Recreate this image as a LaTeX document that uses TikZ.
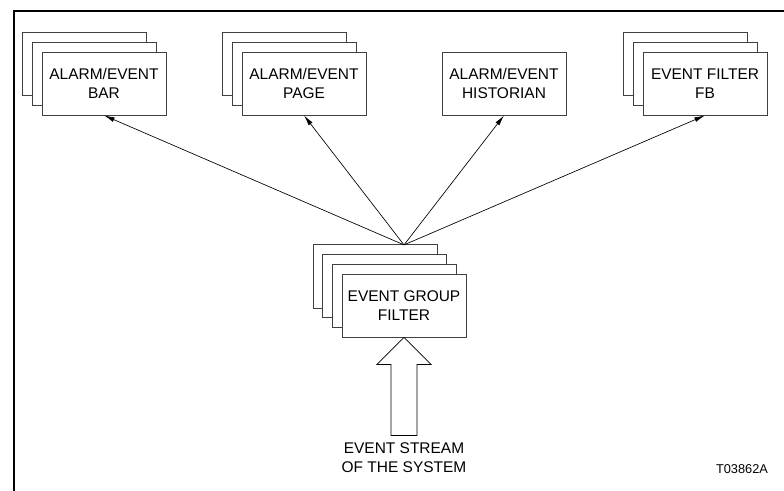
\documentclass[tikz,border=0pt]{standalone}
\usepackage{fontspec}
\setmainfont{Liberation Sans}
\usetikzlibrary{arrows.meta}
\tikzset{>={Latex[length=8pt,width=3.6pt]}}
\tikzset{card/.style={draw=black!75,line width=0.6pt,fill=white,minimum width=93pt,minimum height=47.25pt,inner sep=0pt,align=center,font=\fontsize{11.6}{14.5}\selectfont}}

\begin{document}
\begin{tikzpicture}[x=0.75pt,y=-0.75pt]
\useasboundingbox (0,0) rectangle (784,491);
\draw [line width=1pt] (784,11) -- (14,11) -- (14,491);
% top row
\node [card] (bar2) at (84.5,64) {};
\node [card] (bar1) at (94.2,73.7) {};
\node [card] (bar) at (104,83.5) {ALARM/EVENT\\BAR};
\node [card] (page2) at (284.5,64) {};
\node [card] (page1) at (294.2,73.7) {};
\node [card] (page) at (304,83.5) {ALARM/EVENT\\PAGE};
\node [card] (hist) at (504,83.5) {ALARM/EVENT\\HISTORIAN};
\node [card] (fb2) at (685.5,64) {};
\node [card] (fb1) at (695.2,73.7) {};
\node [card] (fb) at (705,83.5) {EVENT FILTER\\FB};
% filter stack
\node [card] (grp3) at (374.9,276.4) {};
\node [card] (grp2) at (384.6,286.1) {};
\node [card] (grp1) at (394.3,295.8) {};
\node [card] (grp) at (404,305.5) {EVENT GROUP\\FILTER};
\coordinate (hub) at (404,244.9);
\draw [->,line width=0.5pt] (hub) -- (bar.south);
\draw [->,line width=0.5pt] (hub) -- (page.south);
\draw [->,line width=0.5pt] (hub) -- (hist.south);
\draw [->,line width=0.5pt] (hub) -- (fb.south);
% event stream
\node [align=center,font=\fontsize{11.6}{14.5}\selectfont] (stream) at (404,458) {EVENT STREAM\\OF THE SYSTEM};
\draw [line width=0.6pt,fill=white] (grp.south) -- ++(27,27) -- ++(-14,0) -- ++(0,71) -- ++(-26,0) -- ++(0,-71) -- ++(-14,0) -- cycle;
\node [font=\fontsize{9.6}{11}\selectfont] (tag) at (742,469) {T03862A};
\end{tikzpicture}
\end{document}
